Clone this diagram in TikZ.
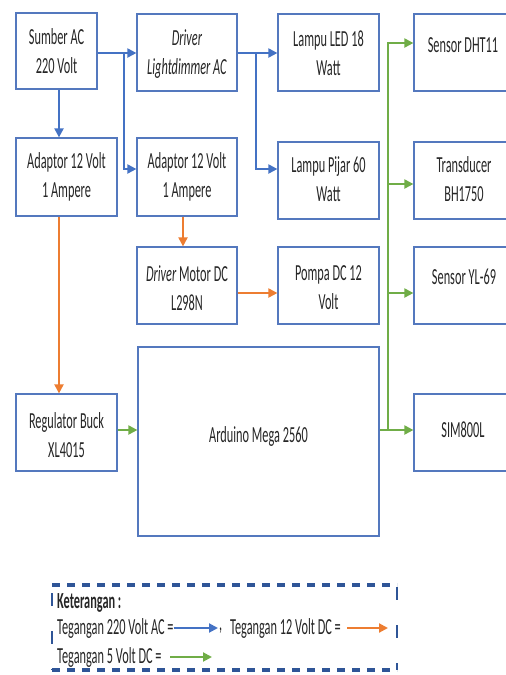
\documentclass[tikz,border=0pt]{standalone}
\usepackage{fontspec}
\setmainfont{Carlito}[FakeStretch=0.535]
\usetikzlibrary{arrows.meta}
\definecolor{boxblue}{RGB}{84,120,190}
\definecolor{acblue}{RGB}{68,114,196}
\definecolor{dcorange}{RGB}{237,125,49}
\definecolor{dcgreen}{RGB}{112,173,71}
\definecolor{legblue}{RGB}{47,85,151}
\definecolor{txt}{RGB}{38,38,38}
\begin{document}
\begin{tikzpicture}[x=1pt,y=-1pt,
  blk/.style={draw=boxblue, line width=1.2pt, rectangle, inner sep=0pt},
  lbl/.style={align=center, font=\fontsize{23}{29}\selectfont, text=txt, inner sep=0pt},
  legtxt/.style={font=\fontsize{23}{28}\selectfont, text=txt, inner sep=0pt, anchor=west},
  arr/.style={line width=2pt, -{Triangle[length=9pt,width=9pt]}},
  ac/.style={arr, draw=acblue},
  dco/.style={arr, draw=dcorange},
  dcg/.style={arr, draw=dcgreen},
  hdash/.style={draw=legblue, line width=3.2pt, dash pattern=on 8pt off 7pt},
  vdash/.style={draw=legblue, line width=2.5pt, dash pattern=on 13pt off 25pt}
]
\path[use as bounding box] (0,0) rectangle (506,675);

% boxes
\node[blk, minimum width=81pt, minimum height=76pt] (sumber) at (56.5,51) {};
\node[blk, minimum width=100pt, minimum height=77pt] (dimmer) at (187,52.5) {};
\node[blk, minimum width=101pt, minimum height=77pt] (led) at (328.5,52.5) {};
\node[blk, minimum width=101pt, minimum height=77pt] (dht) at (464.5,52.5) {};
\node[blk, minimum width=101pt, minimum height=78pt] (adl) at (66.5,177) {};
\node[blk, minimum width=100pt, minimum height=78pt] (adr) at (187,177) {};
\node[blk, minimum width=101pt, minimum height=77pt] (pijar) at (328.5,180.5) {};
\node[blk, minimum width=101pt, minimum height=77pt] (trans) at (464.5,180.5) {};
\node[blk, minimum width=100pt, minimum height=77pt] (motor) at (187,285.5) {};
\node[blk, minimum width=101pt, minimum height=77pt] (pompa) at (328.5,285.5) {};
\node[blk, minimum width=101pt, minimum height=77pt] (yl) at (464.5,285.5) {};
\node[blk, minimum width=101pt, minimum height=77pt] (reg) at (66.5,432.5) {};
\node[blk, minimum width=241pt, minimum height=189pt] (ard) at (258.5,441.5) {};
\node[blk, minimum width=101pt, minimum height=77pt] (sim) at (464.5,432.5) {};

% texts
\node[lbl] (tsumber) at (56.5,51.5) {Sumber AC\\220 Volt};
\node[lbl] (tdimmer) at (187,54) {\textit{Driver}\\\textit{Lightdimmer AC}};
\node[lbl] (tled) at (328.5,53) {Lampu LED 18\\Watt};
\node[lbl] (tdht) at (463,45) {Sensor DHT11};
\node[lbl] (tadl) at (66.5,176.5) {Adaptor 12 Volt\\1 Ampere};
\node[lbl] (tadr) at (187,176.5) {Adaptor 12 Volt\\1 Ampere};
\node[lbl] (tpijar) at (328.5,179) {Lampu Pijar 60\\Watt};
\node[lbl] (ttrans) at (464,179.5) {Transducer\\BH1750};
\node[lbl] (tmotor) at (187,288) {\textit{Driver} Motor DC\\L298N};
\node[lbl] (tpompa) at (328.5,288) {Pompa DC 12\\Volt};
\node[lbl] (tyl) at (464,277) {Sensor YL-69};
\node[lbl] (treg) at (66.5,435.5) {Regulator Buck\\XL4015};
\node[lbl] (tard) at (258.5,436) {Arduino Mega 2560};
\node[lbl] (tsim) at (463,430) {SIM800L};

% blue (220 V AC)
\coordinate (s1) at ([yshift=-2pt]sumber.east);
\draw[ac] (s1) -- (s1 -| dimmer.west);
\coordinate (j1) at (124,53);
\coordinate (a1) at ([yshift=8pt]adr.west);
\draw[ac] (j1) |- (a1);
\coordinate (s2) at ([xshift=2.5pt]sumber.south);
\draw[ac] (s2) -- (s2 |- adl.north);
\coordinate (d1) at ([yshift=-0.5pt]dimmer.east);
\draw[ac] (d1) -- (d1 -| led.west);
\coordinate (j2) at (256,53);
\coordinate (p1) at ([yshift=11.5pt]pijar.west);
\draw[ac] (j2) |- (p1);

% orange (12 V DC)
\coordinate (o1) at ([xshift=-7.5pt]adl.south);
\draw[dco] (o1) -- (o1 |- reg.north);
\coordinate (o2) at ([xshift=-4pt]adr.south);
\draw[dco] (o2) -- (o2 |- motor.north);
\coordinate (o3) at ([yshift=-7.5pt]motor.east);
\draw[dco] (o3) -- (o3 -| pompa.west);

% green (5 V DC)
\coordinate (g1) at ([yshift=2.5pt]reg.east);
\draw[dcg] (g1) -- (g1 -| ard.west);
\coordinate (g2) at ([yshift=11.5pt]ard.east);
\draw[dcg] (g2) -- (g2 -| sim.west);
\coordinate (bus) at (388,430);
\coordinate (gd) at ([yshift=9.5pt]dht.west);
\draw[dcg] (bus) |- (gd);
\coordinate (gt) at ([yshift=-3.5pt]trans.west);
\draw[dcg] (bus |- gt) -- (gt);
\coordinate (gy) at ([yshift=-7.5pt]yl.west);
\draw[dcg] (bus |- gy) -- (gy);

% legend frame
\draw[hdash] (52,585) -- (397,585);
\draw[hdash] (52,670) -- (397,670);
\draw[vdash] (52,593) -- (52,670);
\draw[vdash] (397,587) -- (397,670);

% legend content
\node[legtxt, font=\fontsize{23}{28}\selectfont\bfseries] (ket) at (57,603) {Keterangan :};
\node[legtxt] (l1) at (57,628) {Tegangan 220 Volt AC =};
\coordinate (l1e) at (218,628);
\draw[ac] (l1.east) -- (l1e);
\node[legtxt] (comma) at (219,631) {,};
\node[legtxt] (l2) at (230,628) {Tegangan 12 Volt DC =};
\coordinate (l2s) at (347,628);
\coordinate (l2e) at (388,628);
\draw[dco] (l2s) -- (l2e);
\node[legtxt] (l3) at (57,657) {Tegangan 5 Volt DC =};
\coordinate (l3s) at (170,657);
\coordinate (l3e) at (212,657);
\draw[dcg] (l3s) -- (l3e);
\end{tikzpicture}
\end{document}
